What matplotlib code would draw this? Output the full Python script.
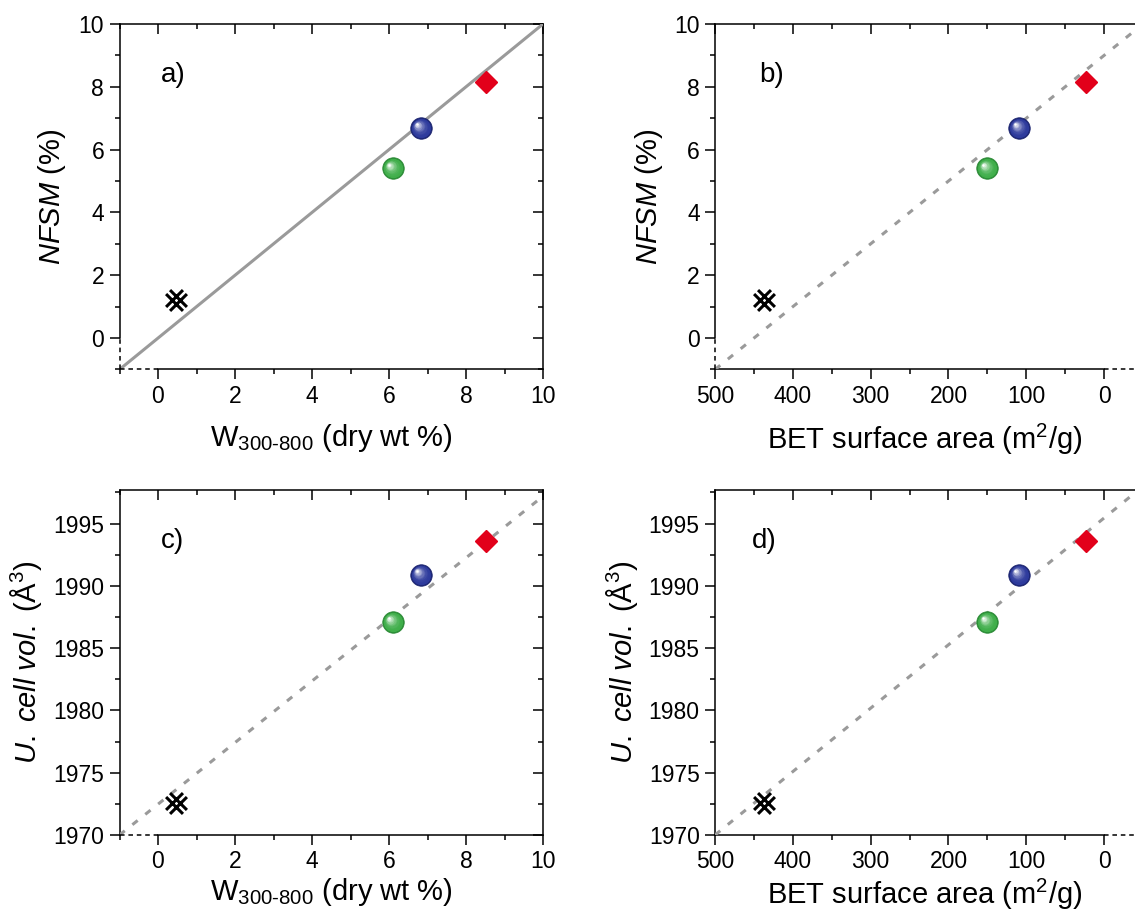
import numpy as np
import matplotlib
matplotlib.use("Agg")
import matplotlib.pyplot as plt
from matplotlib.path import Path
from matplotlib.colors import to_rgb
import matplotlib.transforms as mtransforms

plt.rcParams['font.family'] = ['Liberation Sans', 'DejaVu Sans']
plt.rcParams['mathtext.fontset'] = 'custom'
plt.rcParams['mathtext.rm'] = 'Liberation Sans'
plt.rcParams['mathtext.it'] = 'Liberation Sans:italic'

# data: order = cross (black), green sphere, blue sphere, red diamond
w_300_800 = [0.47, 6.10, 6.83, 8.52]
bet_area = [437, 150, 109, 23]
nfsm = [1.2, 5.4, 6.69, 8.15]
cell_vol = [1972.6, 1987.1, 1990.9, 1993.6]

# guide lines (end points)
fit_a_x, fit_a_y = [-1, 10], [-1, 10]
fit_b_x, fit_b_y = [500, -50], [-1, 10]
fit_c_x, fit_c_y = [-1, 10], [1970, 1997.2]
fit_d_x, fit_d_y = [500, -50], [1970, 1998.0]

W, H = 1135, 915
fig = plt.figure(figsize=(W / 100, H / 100), dpi=100)


def px_axes(left, right, top, bottom):
    return fig.add_axes([left / W, 1 - bottom / H, (right - left) / W, (bottom - top) / H])


ax_a = px_axes(119.5, 543, 24, 369.5)
ax_b = px_axes(715, 1143, 24, 369.5)
ax_c = px_axes(119.5, 543, 490, 835)
ax_d = px_axes(715, 1143, 490, 835)

# marker: diagonal lattice (two "/" and two "\" strokes in a square)
d = 0.19
lattice = Path(
    [(-0.5, -0.5 + d), (0.5 - d, 0.5), (-0.5 + d, -0.5), (0.5, 0.5 - d),
     (-0.5 + d, 0.5), (0.5, -0.5 + d), (-0.5, 0.5 - d), (0.5 - d, -0.5)],
    [Path.MOVETO, Path.LINETO] * 4)


def sphere(ax, x, y, base, dark):
    ax.plot(x, y, 'o', ms=15.5, mfc=dark, mec=dark, mew=0.5, zorder=5)
    b = np.array(to_rgb(base))
    n = 10
    for i in range(n):
        f = i / (n - 1)
        col = b * (1 - f ** 2.2) + np.ones(3) * f ** 2.2
        size = 14 * (1 - 0.88 * f)
        tr = mtransforms.offset_copy(ax.transData, fig=fig, x=-2.8 * f, y=2.6 * f, units='points')
        ax.plot(x, y, 'o', ms=size, mfc=col, mec='none', transform=tr, zorder=5 + i * 0.01)


def setup(ax, xlim, ylim, xmaj, xmin, ymaj, ymin, left_dash, bottom_dash, right_axis=True):
    ax.set_xlim(*xlim)
    ax.set_ylim(*ylim)
    ax.set_xticks(xmaj)
    ax.set_xticks(xmin, minor=True)
    ax.set_yticks(ymaj)
    ax.set_yticks(ymin, minor=True)
    ax.tick_params(which='both', direction='out', labelsize=16.5, width=1.1)
    ax.tick_params(which='major', length=7, pad=4)
    ax.tick_params(which='minor', length=3.5)
    for s in ax.spines.values():
        s.set_linewidth(1.1)
    ax.spines['right'].set_visible(False)
    ax.spines['top'].set_visible(False)
    # top/right mirrored axes
    sx = ax.secondary_xaxis('top')
    sx.set_xticks(xmaj)
    sx.set_xticks(xmin, minor=True)
    sx.tick_params(which='both', direction='in', labeltop=False, width=1.1)
    sx.tick_params(which='major', length=7)
    sx.tick_params(which='minor', length=3.5)
    sx.spines['top'].set_linewidth(1.1)
    if right_axis:
        sy = ax.secondary_yaxis('right')
        sy.set_yticks(ymaj)
        sy.set_yticks(ymin, minor=True)
        sy.tick_params(which='both', direction='in', labelright=False, width=1.1)
        sy.tick_params(which='major', length=7)
        sy.tick_params(which='minor', length=3.5)
        sy.spines['right'].set_linewidth(1.1)
    if left_dash is not None:
        ax.spines['left'].set_bounds(left_dash[1], ylim[1])
        ax.plot([xlim[0], xlim[0]], left_dash, color='black', lw=1.1, ls=(0, (3, 2.5)),
                clip_on=False, zorder=6)
    if bottom_dash is not None:
        d0, d1 = bottom_dash
        if d0 == xlim[0]:
            ax.spines['bottom'].set_bounds(d1, xlim[1])
        else:
            ax.spines['bottom'].set_bounds(xlim[0], d0)
        ax.plot([d0, d1], [ylim[0], ylim[0]], color='black', lw=1.1, ls=(0, (3, 2.5)),
                clip_on=False, zorder=6)


w_maj, w_min = list(range(0, 11, 2)), list(range(-1, 11, 2))
b_maj, b_min = list(range(0, 501, 100)), list(range(50, 501, 100))
n_maj, n_min = list(range(0, 11, 2)), list(range(-1, 11, 2))
v_maj, v_min = list(range(1970, 1996, 5)), [1972.5 + 5 * i for i in range(6)]

setup(ax_a, (-1, 10), (-1, 10), w_maj, w_min, n_maj, n_min, (-1, 0), (-1, 0))
setup(ax_b, (500, -50), (-1, 10), b_maj, b_min, n_maj, n_min, (-1, 0), (0, -50), False)
setup(ax_c, (-1, 10), (1970, 1997.7), w_maj, w_min, v_maj, v_min, None, (-1, 0))
setup(ax_d, (500, -50), (1970, 1997.7), b_maj, b_min, v_maj, v_min, None, (0, -50), False)

grey = '#9a9a9a'
ax_a.plot(fit_a_x, fit_a_y, color=grey, lw=2.2, zorder=3)
ax_b.plot(fit_b_x, fit_b_y, color=grey, lw=2.2, ls=(0, (2.2, 3.2)), zorder=3)
ax_c.plot(fit_c_x, fit_c_y, color=grey, lw=2.2, ls=(0, (2.2, 3.2)), zorder=3)
ax_d.plot(fit_d_x, fit_d_y, color=grey, lw=2.2, ls=(0, (2.2, 3.2)), zorder=3)

for ax, xs, ys in ((ax_a, w_300_800, nfsm), (ax_b, bet_area, nfsm),
                   (ax_c, w_300_800, cell_vol), (ax_d, bet_area, cell_vol)):
    ax.plot(xs[0], ys[0], marker=lattice, ms=15, color='black', mew=2.2, ls='none', zorder=5)
    sphere(ax, xs[1], ys[1], '#3fae4a', '#2a8a35')
    sphere(ax, xs[2], ys[2], '#2d3a9c', '#1b2470')
    ax.plot(xs[3], ys[3], 'D', ms=11.5, color='#e2001a', mec='#e2001a', zorder=5)

fs_lab = 21
for ax, xf in ((ax_a, -0.122), (ax_b, -0.117)):
    ax.set_ylabel(r'$\it{NFSM}$ (%)', fontsize=fs_lab)
    ax.yaxis.set_label_coords(xf, 0.5)
for ax, xf in ((ax_c, -0.178), (ax_d, -0.176)):
    ax.set_ylabel(r'$\it{U.\ cell\ vol.}$ (Å$^3$)', fontsize=fs_lab)
    ax.yaxis.set_label_coords(xf, 0.5)
for ax, yf in ((ax_a, -0.152), (ax_c, -0.12)):
    ax.set_xlabel(r'W$_{\mathrm{300}\text{-}\mathrm{800}}$ (dry wt %)', fontsize=fs_lab)
    ax.xaxis.set_label_coords(0.5, yf)
for ax, yf in ((ax_b, -0.152), (ax_d, -0.12)):
    ax.set_xlabel(r'BET surface area (m$^2$/g)', fontsize=fs_lab)
    ax.xaxis.set_label_coords(0.49, yf)

panel_labels = ['a)', 'b)', 'c)', 'd)']
for ax, lab, xf in zip((ax_a, ax_b, ax_c, ax_d), panel_labels, (0.097, 0.103, 0.097, 0.085)):
    ax.text(xf, 0.853, lab, transform=ax.transAxes, fontsize=20, ha='left', va='center')

fig.savefig('out.png', dpi=100)
